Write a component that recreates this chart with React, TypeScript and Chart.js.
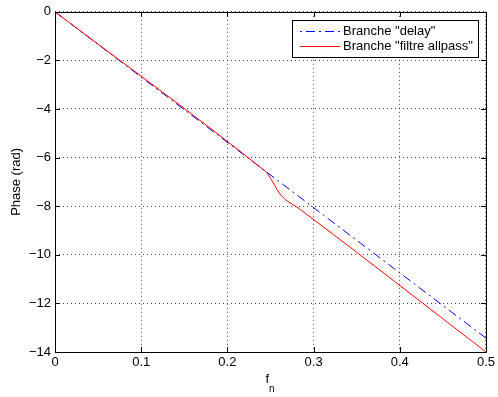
import React, { useEffect, useRef } from "react";
import { Chart, registerables } from "chart.js";

Chart.register(...registerables);

const fnDelay = [0, 0.5];
const phaseDelay = [0, -13.43];

const fnAllpass = [0, 0.24, 0.245, 0.25, 0.255, 0.26, 0.265, 0.27, 0.28, 0.29, 0.5];
const phaseAllpass = [0, -6.45, -6.6, -6.85, -7.15, -7.45, -7.65, -7.8, -8.02, -8.28, -14];

const xTicks = [0, 0.1, 0.2, 0.3, 0.4, 0.5];
const yTicks = [0, -2, -4, -6, -8, -10, -12, -14];

const legendLabels = ['Branche "delay"', 'Branche "filtre allpass"'];
const xTitle = "f";
const xTitleSub = "n";
const yTitle = "Phase (rad)";

const FONT = "Liberation Sans, Arial, Helvetica, sans-serif";
const DASH_DOT = [9, 4, 2, 4];

export default function App() {
  const ref = useRef<HTMLCanvasElement | null>(null);

  useEffect(() => {
    document.body.style.margin = "0";
    const canvas = ref.current;
    if (!canvas) return;

    const matlabPlugin = {
      id: "matlabDeco",
      afterDraw(chart: any) {
        const ctx = chart.ctx;
        const a = chart.chartArea;
        const xs = chart.scales.x;
        const ys = chart.scales.y;
        ctx.save();
        // box
        ctx.strokeStyle = "#000";
        ctx.lineWidth = 1;
        ctx.beginPath();
        ctx.rect(Math.round(a.left) + 0.5, Math.round(a.top) + 0.5, Math.round(a.right - a.left), Math.round(a.bottom - a.top));
        ctx.stroke();
        // inward ticks
        const tl = 5;
        ctx.beginPath();
        xTicks.forEach((v) => {
          const px = Math.round(xs.getPixelForValue(v)) + 0.5;
          ctx.moveTo(px, a.bottom);
          ctx.lineTo(px, a.bottom - tl);
          ctx.moveTo(px, a.top);
          ctx.lineTo(px, a.top + tl);
        });
        yTicks.forEach((v) => {
          const py = Math.round(ys.getPixelForValue(v)) + 0.5;
          ctx.moveTo(a.left, py);
          ctx.lineTo(a.left + tl, py);
          ctx.moveTo(a.right, py);
          ctx.lineTo(a.right - tl, py);
        });
        ctx.stroke();

        // titles
        ctx.fillStyle = "#000";
        ctx.font = `13px ${FONT}`;
        ctx.textAlign = "left";
        ctx.textBaseline = "alphabetic";
        const cx = (a.left + a.right) / 2;
        const fw = ctx.measureText(xTitle).width;
        ctx.fillText(xTitle, cx - 5, a.bottom + 31);
        ctx.font = `10px ${FONT}`;
        ctx.fillText(xTitleSub, cx - 5 + fw, a.bottom + 40);

        ctx.font = `13px ${FONT}`;
        ctx.save();
        ctx.translate(20, (a.top + a.bottom) / 2);
        ctx.rotate(-Math.PI / 2);
        ctx.textAlign = "center";
        ctx.fillText(yTitle, 0, 0);
        ctx.restore();

        // legend
        ctx.font = `13px ${FONT}`;
        const tw = Math.max(...legendLabels.map((l) => ctx.measureText(l).width));
        const lx1 = 8, lineLen = 40, gap = 3, padR = 5;
        const boxW = lx1 + lineLen + gap + tw + padR;
        const boxH = 37;
        const bx = Math.round(a.right - 8 - boxW);
        const by = Math.round(a.top + 8);
        ctx.fillStyle = "#fff";
        ctx.fillRect(bx, by, boxW, boxH);
        ctx.strokeStyle = "#000";
        ctx.lineWidth = 1;
        ctx.strokeRect(bx + 0.5, by + 0.5, Math.round(boxW), boxH);
        const rows = [
          { color: "#0000ff", dash: DASH_DOT, offset: 13 },
          { color: "#ff0000", dash: [] as number[], offset: 0 },
        ];
        rows.forEach((r, i) => {
          const y = by + 11.5 + i * 15;
          ctx.strokeStyle = r.color;
          ctx.setLineDash(r.dash);
          ctx.lineDashOffset = r.offset;
          ctx.beginPath();
          ctx.moveTo(bx + lx1, y);
          ctx.lineTo(bx + lx1 + lineLen, y);
          ctx.stroke();
          ctx.setLineDash([]);
          ctx.lineDashOffset = 0;
          ctx.fillStyle = "#000";
          ctx.textBaseline = "middle";
          ctx.textAlign = "left";
          ctx.fillText(legendLabels[i], bx + lx1 + lineLen + gap, y);
        });
        ctx.restore();
      },
    };

    const chart = new Chart(canvas, {
      type: "line",
      data: {
        datasets: [
          {
            label: legendLabels[0],
            data: fnDelay.map((x, i) => ({ x, y: phaseDelay[i] })),
            borderColor: "#0000ff",
            borderWidth: 1,
            borderDash: DASH_DOT,
            pointRadius: 0,
            fill: false,
            tension: 0,
            order: 1,
          },
          {
            label: legendLabels[1],
            data: fnAllpass.map((x, i) => ({ x, y: phaseAllpass[i] })),
            borderColor: "#ff0000",
            borderWidth: 1,
            pointRadius: 0,
            fill: false,
            tension: 0.3,
            cubicInterpolationMode: "monotone",
            order: 0,
          },
        ],
      },
      options: {
        responsive: false,
        animation: false,
        layout: { padding: { left: 0, top: 9, right: 9, bottom: 0 } },
        plugins: { legend: { display: false }, tooltip: { enabled: false } },
        scales: {
          x: {
            type: "linear",
            min: 0,
            max: 0.5,
            afterBuildTicks: (s: any) => {
              s.ticks = xTicks.map((v) => ({ value: v }));
            },
            afterFit: (s: any) => {
              s.height = 45;
            },
            ticks: {
              color: "#000",
              font: { family: FONT, size: 13 },
              padding: 3,
              maxRotation: 0,
              callback: (v: any) => String(Number(Number(v).toFixed(1))),
            },
            grid: { color: "rgba(0,0,0,0.75)", lineWidth: 1, drawTicks: false },
            border: { display: false, dash: [1, 3] },
          },
          y: {
            type: "linear",
            min: -14,
            max: 0,
            afterBuildTicks: (s: any) => {
              s.ticks = yTicks.map((v) => ({ value: v }));
            },
            afterFit: (s: any) => {
              s.width = 55;
            },
            ticks: {
              color: "#000",
              font: { family: FONT, size: 13 },
              padding: 4,
              callback: (v: any) => (Number(v) < 0 ? "\u2212" + Math.abs(Number(v)) : String(v)),
            },
            grid: { color: "rgba(0,0,0,0.75)", lineWidth: 1, drawTicks: false },
            border: { display: false, dash: [1, 3] },
          },
        },
      },
      plugins: [matlabPlugin],
    } as any);

    return () => chart.destroy();
  }, []);

  return (
    <div style={{ width: 498, height: 397, background: "#fff" }}>
      <canvas ref={ref} width={498} height={397} style={{ display: "block" }} />
    </div>
  );
}
